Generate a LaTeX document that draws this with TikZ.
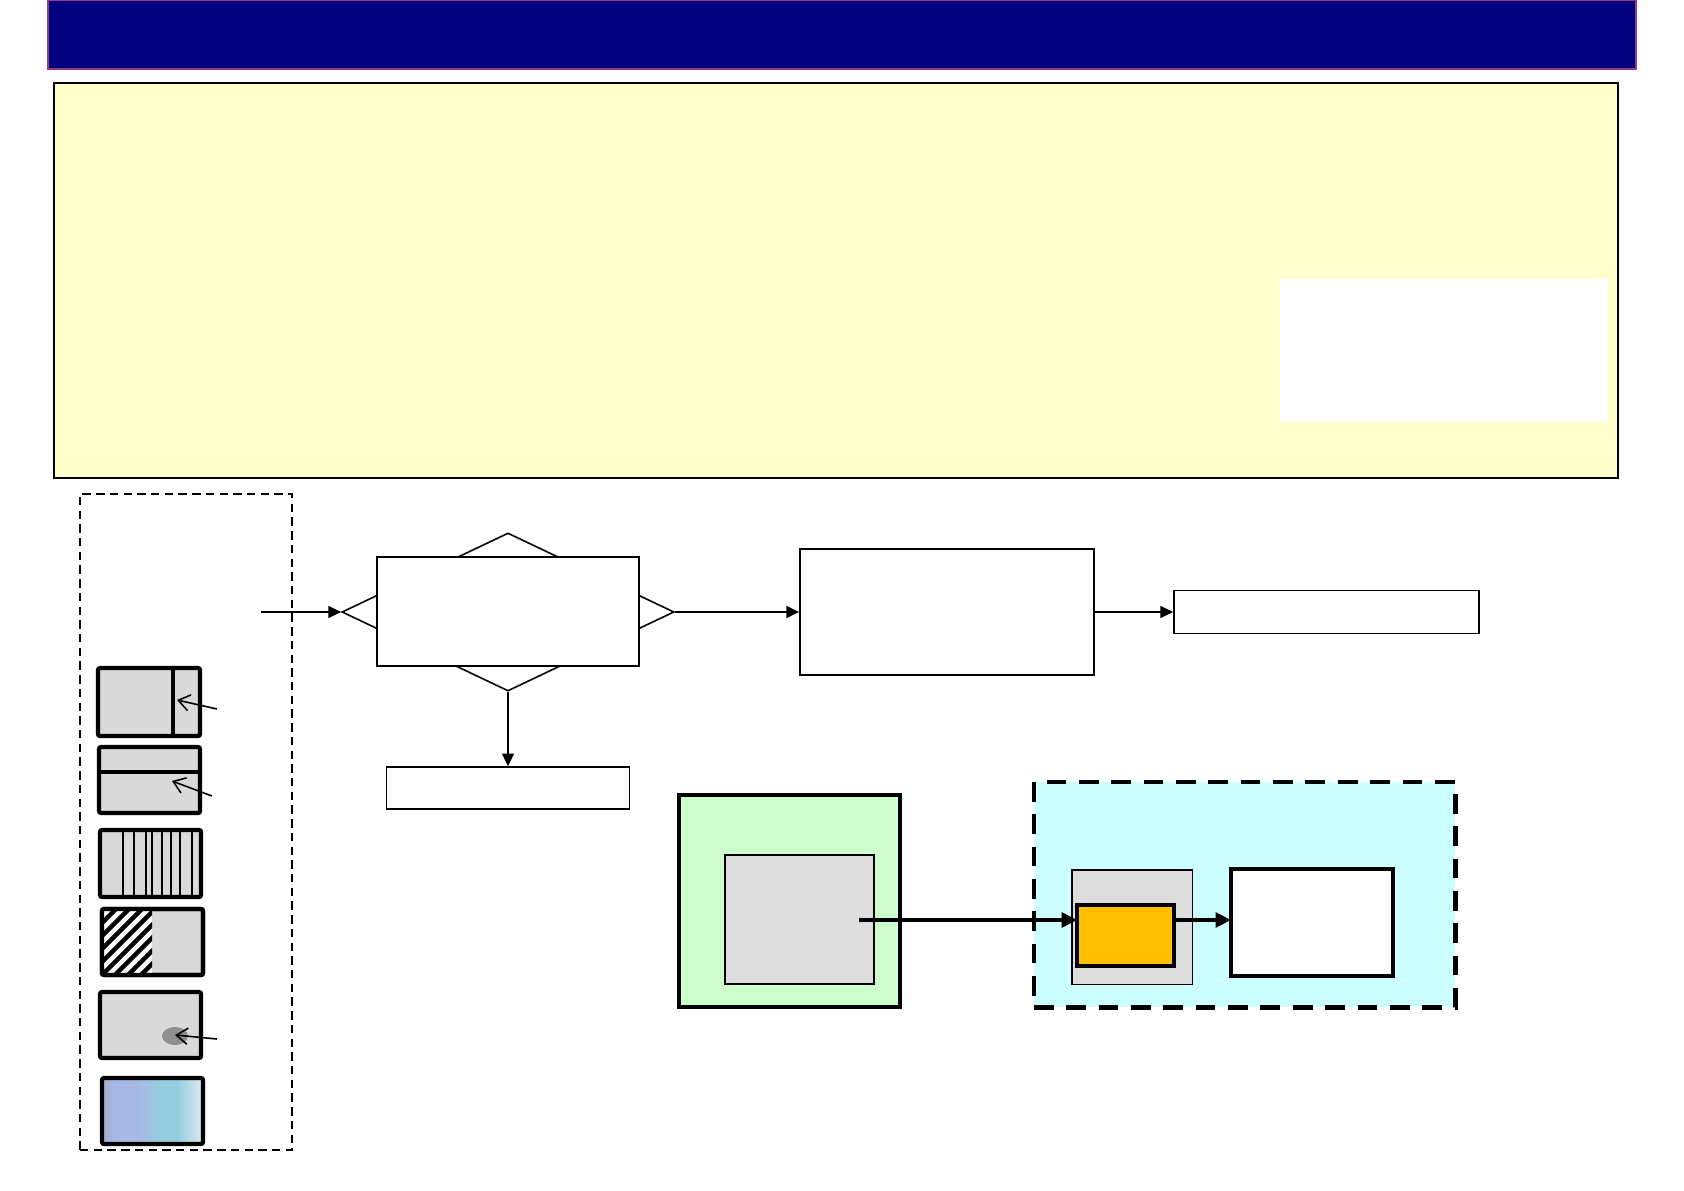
\documentclass[tikz,border=0pt]{standalone}
\usepackage[dvipsnames, svgnames]{xcolor}
\usepackage{tikz}
\usetikzlibrary{arrows.meta, shapes.geometric, calc}
\definecolor{headnavy}{HTML}{000080}
\definecolor{headedge}{HTML}{8E3F86}
\definecolor{notepaper}{HTML}{FFFFCC}
\definecolor{icongrey}{HTML}{D9D9D9}
\definecolor{spotgrey}{HTML}{8F8F8F}
\definecolor{paneGreen}{HTML}{CCFFCC}
\definecolor{paneCyan}{HTML}{CCFFFF}
\definecolor{panelGrey}{HTML}{DDDDDD}
\definecolor{coreOrange}{HTML}{FFC000}
\definecolor{iconedge}{HTML}{A2ABC8}
\definecolor{iconlav}{HTML}{A6B8E6}
\definecolor{iconsky}{HTML}{92CEDE}
\definecolor{iconpale}{HTML}{DCE8F2}
\pgfdeclarehorizontalshading{iconglow}{100bp}{color(0bp)=(iconedge); color(25bp)=(iconedge);
    color(31bp)=(iconlav); color(42bp)=(iconlav); color(55bp)=(iconsky); color(62bp)=(iconsky);
    color(75bp)=(iconpale); color(100bp)=(iconpale)}
\tikzset{
    box/.style={rectangle, anchor=north west, inner sep=0pt, outer sep=0pt},
    iconbox/.style={box, draw=black, fill=icongrey, line width=1.2pt, rounded corners=0.6pt},
    flowbox/.style={rectangle, draw=black, fill=white, line width=0.45pt, inner sep=0pt},
    flowarrow/.style={line width=0.45pt, -{Triangle[length=3.6pt, width=3.4pt]}},
    thickarrow/.style={line width=1.2pt, -{Triangle[length=4.4pt, width=4.2pt]}},
    pointer/.style={line width=0.45pt, -{Straight Barb[length=3.2pt, width=4.6pt]}}
}
\begin{document}
\begin{tikzpicture}[x=0.01cm, y=-0.01cm]
        \useasboundingbox (0,0) rectangle (1684,1191);

        % ---------------- title bar and note ----------------
        \node[box, fill=headnavy, draw=headedge, line width=0.4pt,
              minimum width=15.87cm, minimum height=0.69cm] (header) at (48,0) {};
        \node[box, fill=notepaper, draw=black, line width=0.45pt,
              minimum width=15.63cm, minimum height=3.95cm] (note) at (54,83) {};
        \node[box, fill=white, minimum width=3.28cm, minimum height=1.43cm] (noteBlank) at (1280,279) {};

        % ---------------- icon column ----------------
        \node[box, draw=black, line width=0.6pt, dash pattern=on 2.4pt off 1.5pt,
              minimum width=2.12cm, minimum height=6.56cm] (iconFrame) at (80,494) {};
        \coordinate (srcIn) at (261,612);

        % split to the right
        \node[iconbox, minimum width=1.02cm, minimum height=0.68cm] (iconA) at (98,668) {};
        \draw[line width=1.2pt] (173,668) -- (173,736);
        \coordinate (tagA) at (217,709);
        \draw[pointer] (tagA) -- (177,700);

        % split at the top
        \node[iconbox, minimum width=1.01cm, minimum height=0.66cm] (iconB) at (99,747) {};
        \draw[line width=1.2pt] (99,772) -- (200,772);
        \coordinate (tagB) at (212,796);
        \draw[pointer] (tagB) -- (172,781);

        % stripes
        \node[iconbox, minimum width=1.01cm, minimum height=0.67cm] (iconC) at (100,830) {};
        \foreach \x/\w in {123/0.4, 134/0.8, 146/0.4, 152/0.8, 162/0.4, 171/0.8, 180/0.4, 192/0.6} {
            \draw[line width=\w pt] (\x,830) -- (\x,897);
        }

        % hatched part
        \node[iconbox, minimum width=1.01cm, minimum height=0.66cm] (iconD) at (102,909) {};
        \begin{scope}
            \clip (102,909) rectangle (152,975);
            \fill[white] (102,909) rectangle (152,975);
            \foreach \k in {-7,...,5} {
                \draw[line width=1.3pt] (92+13*\k,985) -- (172+13*\k,905);
            }
        \end{scope}
        \draw[line width=1.2pt, rounded corners=0.6pt] (102,909) rectangle (203,975);

        % spot
        \node[iconbox, minimum width=1.01cm, minimum height=0.66cm] (iconE) at (100,992) {};
        \fill[spotgrey] (175,1036) ellipse (13 and 9);
        \coordinate (tagE) at (217,1039);
        \draw[pointer] (tagE) -- (175,1035);

        % gradient
        \node[iconbox, shading=iconglow, minimum width=1.01cm, minimum height=0.66cm] (iconF) at (102,1078) {};

        % ---------------- flow ----------------
        \node[diamond, draw=black, line width=0.45pt, inner sep=0pt,
              minimum width=3.32cm, minimum height=1.58cm] (gate) at (508,612) {};
        \node[flowbox, minimum width=2.62cm, minimum height=1.09cm] (gateBox) at (508,611.5) {};
        \node[flowbox, minimum width=2.94cm, minimum height=1.26cm] (stageBox) at (947,612) {};
        \node[flowbox, minimum width=3.05cm, minimum height=0.43cm] (outBox) at (1326.5,612) {};
        \node[flowbox, minimum width=2.43cm, minimum height=0.42cm] (dropBox) at (508,788) {};

        \draw[flowarrow] (srcIn) -- (gate.west);
        \draw[flowarrow] (gate.east) -- (stageBox.west);
        \draw[flowarrow] (stageBox.east) -- (outBox.west);
        \draw[flowarrow] (gate.south) -- (dropBox.north);

        % ---------------- source and target panes ----------------
        \node[box, fill=paneGreen, draw=black, line width=1.3pt,
              minimum width=2.21cm, minimum height=2.12cm] (srcPane) at (679,795) {};
        \node[box, fill=panelGrey, draw=black, line width=0.45pt,
              minimum width=1.49cm, minimum height=1.29cm] (srcPanel) at (725,855) {};
        \node[box, fill=paneCyan, draw=black, line width=1.4pt, dash pattern=on 5.6pt off 3.6pt,
              minimum width=4.21cm, minimum height=2.25cm] (dstPane) at (1034,782) {};
        \node[box, fill=panelGrey, draw=black, line width=0.3pt,
              minimum width=1.20cm, minimum height=1.14cm] (dstPanel) at (1072,870) {};
        \node[box, fill=coreOrange, draw=black, line width=1.3pt,
              minimum width=0.97cm, minimum height=0.61cm] (core) at (1077,905) {};
        \node[box, fill=white, draw=black, line width=1.2pt,
              minimum width=1.62cm, minimum height=1.07cm] (sink) at (1231,869) {};

        \coordinate (srcOut) at (859,920);
        \draw[thickarrow] (srcOut) -- (srcOut -| core.west);
        \draw[thickarrow] (core.east |- srcOut) -- (sink.west |- srcOut);
    \end{tikzpicture}
\end{document}
